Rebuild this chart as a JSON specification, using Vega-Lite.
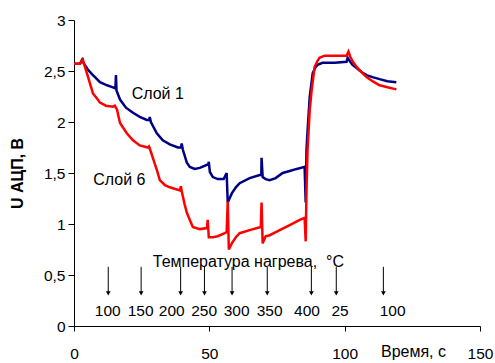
{
  "$schema": "https://vega.github.io/schema/vega-lite/v6.json",
  "width": 406,
  "height": 306,
  "autosize": "none",
  "padding": {"left": 74, "top": 20, "right": 15, "bottom": 37},
  "config": {"view": {"stroke": null}, "font": "Liberation Sans", "axis": {"grid": false}},
  "datasets": {
    "curves": [
      {"s":"Слой 1","i":0,"x":0,"y":2.57},{"s":"Слой 1","i":1,"x":2.2,"y":2.57},{"s":"Слой 1","i":2,"x":3.0,"y":2.61},{"s":"Слой 1","i":3,"x":3.3,"y":2.59},{"s":"Слой 1","i":4,"x":5.2,"y":2.51},{"s":"Слой 1","i":5,"x":7.0,"y":2.46},{"s":"Слой 1","i":6,"x":9.6,"y":2.39},{"s":"Слой 1","i":7,"x":12.2,"y":2.36},{"s":"Слой 1","i":8,"x":14.4,"y":2.34},{"s":"Слой 1","i":9,"x":15.3,"y":2.33},{"s":"Слой 1","i":10,"x":15.5,"y":2.46},{"s":"Слой 1","i":11,"x":15.7,"y":2.31},{"s":"Слой 1","i":12,"x":17.0,"y":2.22},{"s":"Слой 1","i":13,"x":19.2,"y":2.14},{"s":"Слой 1","i":14,"x":21.8,"y":2.09},{"s":"Слой 1","i":15,"x":24.3,"y":2.05},{"s":"Слой 1","i":16,"x":26.9,"y":2.02},{"s":"Слой 1","i":17,"x":27.8,"y":2.02},{"s":"Слой 1","i":18,"x":28.0,"y":2.05},{"s":"Слой 1","i":19,"x":28.4,"y":2.0},{"s":"Слой 1","i":20,"x":30.6,"y":1.89},{"s":"Слой 1","i":21,"x":32.8,"y":1.82},{"s":"Слой 1","i":22,"x":35.4,"y":1.78},{"s":"Слой 1","i":23,"x":38.4,"y":1.75},{"s":"Слой 1","i":24,"x":39.5,"y":1.75},{"s":"Слой 1","i":25,"x":39.8,"y":1.79},{"s":"Слой 1","i":26,"x":40.2,"y":1.73},{"s":"Слой 1","i":27,"x":41.7,"y":1.6},{"s":"Слой 1","i":28,"x":42.8,"y":1.56},{"s":"Слой 1","i":29,"x":44.6,"y":1.54},{"s":"Слой 1","i":30,"x":46.5,"y":1.55},{"s":"Слой 1","i":31,"x":49.1,"y":1.58},{"s":"Слой 1","i":32,"x":49.6,"y":1.58},{"s":"Слой 1","i":33,"x":49.8,"y":1.61},{"s":"Слой 1","i":34,"x":50.2,"y":1.51},{"s":"Слой 1","i":35,"x":51.3,"y":1.46},{"s":"Слой 1","i":36,"x":53.1,"y":1.44},{"s":"Слой 1","i":37,"x":55.3,"y":1.44},{"s":"Слой 1","i":38,"x":56.4,"y":1.5},{"s":"Слой 1","i":39,"x":56.8,"y":1.21},{"s":"Слой 1","i":40,"x":58.3,"y":1.3},{"s":"Слой 1","i":41,"x":59.8,"y":1.36},{"s":"Слой 1","i":42,"x":61.2,"y":1.4},{"s":"Слой 1","i":43,"x":64.9,"y":1.45},{"s":"Слой 1","i":44,"x":68.6,"y":1.48},{"s":"Слой 1","i":45,"x":69.2,"y":1.48},{"s":"Слой 1","i":46,"x":69.3,"y":1.65},{"s":"Слой 1","i":47,"x":69.7,"y":1.46},{"s":"Слой 1","i":48,"x":70.8,"y":1.44},{"s":"Слой 1","i":49,"x":72.3,"y":1.43},{"s":"Слой 1","i":50,"x":74.5,"y":1.45},{"s":"Слой 1","i":51,"x":77.1,"y":1.5},{"s":"Слой 1","i":52,"x":79.7,"y":1.52},{"s":"Слой 1","i":53,"x":82.3,"y":1.54},{"s":"Слой 1","i":54,"x":85.2,"y":1.56},{"s":"Слой 1","i":55,"x":85.6,"y":1.21},{"s":"Слой 1","i":56,"x":85.9,"y":1.73},{"s":"Слой 1","i":57,"x":86.3,"y":1.92},{"s":"Слой 1","i":58,"x":87.1,"y":2.25},{"s":"Слой 1","i":59,"x":88.2,"y":2.48},{"s":"Слой 1","i":60,"x":89.3,"y":2.54},{"s":"Слой 1","i":61,"x":90.0,"y":2.56},{"s":"Слой 1","i":62,"x":91.8,"y":2.58},{"s":"Слой 1","i":63,"x":96.3,"y":2.58},{"s":"Слой 1","i":64,"x":100.7,"y":2.59},{"s":"Слой 1","i":65,"x":101.1,"y":2.63},{"s":"Слой 1","i":66,"x":101.8,"y":2.6},{"s":"Слой 1","i":67,"x":102.9,"y":2.56},{"s":"Слой 1","i":68,"x":104.4,"y":2.53},{"s":"Слой 1","i":69,"x":106.2,"y":2.49},{"s":"Слой 1","i":70,"x":108.1,"y":2.46},{"s":"Слой 1","i":71,"x":110.3,"y":2.44},{"s":"Слой 1","i":72,"x":112.9,"y":2.42},{"s":"Слой 1","i":73,"x":115.8,"y":2.4},{"s":"Слой 1","i":74,"x":119.1,"y":2.39},
      {"s":"Слой 6","i":0,"x":0,"y":2.57},{"s":"Слой 6","i":1,"x":2.2,"y":2.57},{"s":"Слой 6","i":2,"x":3.0,"y":2.6},{"s":"Слой 6","i":3,"x":3.3,"y":2.61},{"s":"Слой 6","i":4,"x":3.7,"y":2.57},{"s":"Слой 6","i":5,"x":5.2,"y":2.44},{"s":"Слой 6","i":6,"x":7.0,"y":2.28},{"s":"Слой 6","i":7,"x":8.5,"y":2.23},{"s":"Слой 6","i":8,"x":9.6,"y":2.19},{"s":"Слой 6","i":9,"x":11.8,"y":2.16},{"s":"Слой 6","i":10,"x":14.4,"y":2.15},{"s":"Слой 6","i":11,"x":15.1,"y":2.16},{"s":"Слой 6","i":12,"x":15.9,"y":2.12},{"s":"Слой 6","i":13,"x":17.0,"y":1.99},{"s":"Слой 6","i":14,"x":19.5,"y":1.89},{"s":"Слой 6","i":15,"x":21.8,"y":1.82},{"s":"Слой 6","i":16,"x":24.3,"y":1.77},{"s":"Слой 6","i":17,"x":27.3,"y":1.75},{"s":"Слой 6","i":18,"x":27.7,"y":1.76},{"s":"Слой 6","i":19,"x":28.0,"y":1.74},{"s":"Слой 6","i":20,"x":29.1,"y":1.65},{"s":"Слой 6","i":21,"x":30.6,"y":1.53},{"s":"Слой 6","i":22,"x":31.7,"y":1.43},{"s":"Слой 6","i":23,"x":33.6,"y":1.38},{"s":"Слой 6","i":24,"x":35.4,"y":1.36},{"s":"Слой 6","i":25,"x":39.1,"y":1.33},{"s":"Слой 6","i":26,"x":39.5,"y":1.37},{"s":"Слой 6","i":27,"x":39.8,"y":1.32},{"s":"Слой 6","i":28,"x":40.9,"y":1.19},{"s":"Слой 6","i":29,"x":41.7,"y":1.11},{"s":"Слой 6","i":30,"x":42.8,"y":1.04},{"s":"Слой 6","i":31,"x":43.9,"y":0.97},{"s":"Слой 6","i":32,"x":46.5,"y":0.95},{"s":"Слой 6","i":33,"x":49.1,"y":0.96},{"s":"Слой 6","i":34,"x":49.4,"y":1.04},{"s":"Слой 6","i":35,"x":49.8,"y":0.87},{"s":"Слой 6","i":36,"x":51.3,"y":0.87},{"s":"Слой 6","i":37,"x":53.1,"y":0.88},{"s":"Слой 6","i":38,"x":55.7,"y":0.91},{"s":"Слой 6","i":39,"x":56.4,"y":0.92},{"s":"Слой 6","i":40,"x":56.8,"y":1.22},{"s":"Слой 6","i":41,"x":57.2,"y":0.75},{"s":"Слой 6","i":42,"x":58.3,"y":0.81},{"s":"Слой 6","i":43,"x":59.8,"y":0.87},{"s":"Слой 6","i":44,"x":61.2,"y":0.91},{"s":"Слой 6","i":45,"x":64.9,"y":0.94},{"s":"Слой 6","i":46,"x":69.0,"y":0.97},{"s":"Слой 6","i":47,"x":69.3,"y":1.21},{"s":"Слой 6","i":48,"x":69.7,"y":0.81},{"s":"Слой 6","i":49,"x":70.8,"y":0.88},{"s":"Слой 6","i":50,"x":72.3,"y":0.89},{"s":"Слой 6","i":51,"x":76.0,"y":0.94},{"s":"Слой 6","i":52,"x":79.7,"y":0.99},{"s":"Слой 6","i":53,"x":83.4,"y":1.04},{"s":"Слой 6","i":54,"x":85.2,"y":1.06},{"s":"Слой 6","i":55,"x":85.6,"y":0.83},{"s":"Слой 6","i":56,"x":85.9,"y":1.33},{"s":"Слой 6","i":57,"x":86.3,"y":1.73},{"s":"Слой 6","i":58,"x":87.1,"y":2.12},{"s":"Слой 6","i":59,"x":87.8,"y":2.31},{"s":"Слой 6","i":60,"x":88.9,"y":2.54},{"s":"Слой 6","i":61,"x":90.0,"y":2.6},{"s":"Слой 6","i":62,"x":90.7,"y":2.63},{"s":"Слой 6","i":63,"x":92.6,"y":2.65},{"s":"Слой 6","i":64,"x":96.3,"y":2.65},{"s":"Слой 6","i":65,"x":100.7,"y":2.65},{"s":"Слой 6","i":66,"x":101.4,"y":2.69},{"s":"Слой 6","i":67,"x":102.2,"y":2.63},{"s":"Слой 6","i":68,"x":103.3,"y":2.58},{"s":"Слой 6","i":69,"x":104.4,"y":2.54},{"s":"Слой 6","i":70,"x":106.2,"y":2.49},{"s":"Слой 6","i":71,"x":108.1,"y":2.44},{"s":"Слой 6","i":72,"x":110.3,"y":2.4},{"s":"Слой 6","i":73,"x":112.9,"y":2.36},{"s":"Слой 6","i":74,"x":115.8,"y":2.34},{"s":"Слой 6","i":75,"x":119.1,"y":2.32}
    ],
    "names": [
      {"t":"Слой 1","x":21.3,"y":2.23},
      {"t":"Слой 6","x":7.1,"y":1.38},
      {"t":"Температура нагрева, \u00a0°C","x":29.1,"y":0.578}
    ],
    "arrows": [
      {"x":12.65,"y":0.58,"y2":0.32},{"x":24.8,"y":0.58,"y2":0.32},{"x":39.4,"y":0.58,"y2":0.32},{"x":48.2,"y":0.58,"y2":0.32},{"x":58.4,"y":0.58,"y2":0.32},{"x":71.4,"y":0.58,"y2":0.32},{"x":87.7,"y":0.58,"y2":0.32},{"x":96.9,"y":0.58,"y2":0.32},{"x":114.3,"y":0.58,"y2":0.32}
    ],
    "temps": [
      {"t":"100","x":12.47,"y":0.098},{"t":"150","x":24.6,"y":0.098},{"t":"200","x":36.1,"y":0.098},{"t":"250","x":48.1,"y":0.098},{"t":"300","x":60.1,"y":0.098},{"t":"350","x":72.3,"y":0.098},{"t":"400","x":86.1,"y":0.098},{"t":"25","x":98.3,"y":0.098},{"t":"100","x":117.7,"y":0.098}
    ]
  },
  "encoding": {
    "x": {"field": "x", "type": "quantitative", "scale": {"domain": [0, 150], "nice": false},
      "axis": {"values": [0, 50, 100, 150], "title": "Время, с", "titleFontSize": 16, "titleFontWeight": "normal", "titleColor": "black", "titleX": 339, "titleY": 30, "titleBaseline": "alphabetic", "titleAlign": "center", "labelFontSize": 15.5, "labelColor": "black", "labelBaseline": "alphabetic", "labelPadding": 27, "tickSize": 5, "tickColor": "black", "domainColor": "black", "labelFlush": false}},
    "y": {"field": "y", "type": "quantitative", "scale": {"domain": [0, 3], "nice": false},
      "axis": {"values": [0, 0.5, 1, 1.5, 2, 2.5, 3], "title": "U АЦП, В", "titleFontSize": 16, "titleFontWeight": "bold", "titleColor": "black", "titleX": -56.5, "titleBaseline": "middle", "labelExpr": "replace(format(datum.value, '~g'), '.', ',')", "labelFontSize": 15.5, "labelColor": "black", "labelPadding": 3, "tickSize": 6, "tickColor": "black", "domainColor": "black", "labelFlush": false}}
  },
  "layer": [
    {
      "data": {"name": "curves"},
      "mark": {"type": "line", "strokeWidth": 2.5, "interpolate": "linear"},
      "encoding": {
        "color": {"field": "s", "type": "nominal", "scale": {"domain": ["Слой 1", "Слой 6"], "range": ["#000085", "#FF0000"]}, "legend": null},
        "order": {"field": "i", "type": "quantitative"}
      }
    },
    {
      "data": {"name": "names"},
      "mark": {"type": "text", "align": "left", "baseline": "alphabetic", "fontSize": 16, "color": "black"},
      "encoding": {
        "text": {"field": "t"}
      }
    },
    {
      "data": {"name": "arrows"},
      "mark": {"type": "rule", "color": "black", "strokeWidth": 1},
      "encoding": {
        "y2": {"field": "y2"}
      }
    },
    {
      "data": {"name": "arrows"},
      "mark": {"type": "point", "shape": "triangle-down", "filled": true, "fill": "black", "stroke": null, "size": 22, "opacity": 1},
      "encoding": {
        "y": {"field": "y2", "type": "quantitative"}
      }
    },
    {
      "data": {"name": "temps"},
      "mark": {"type": "text", "align": "center", "baseline": "alphabetic", "fontSize": 15.5, "color": "black"},
      "encoding": {
        "text": {"field": "t"}
      }
    }
  ]
}
